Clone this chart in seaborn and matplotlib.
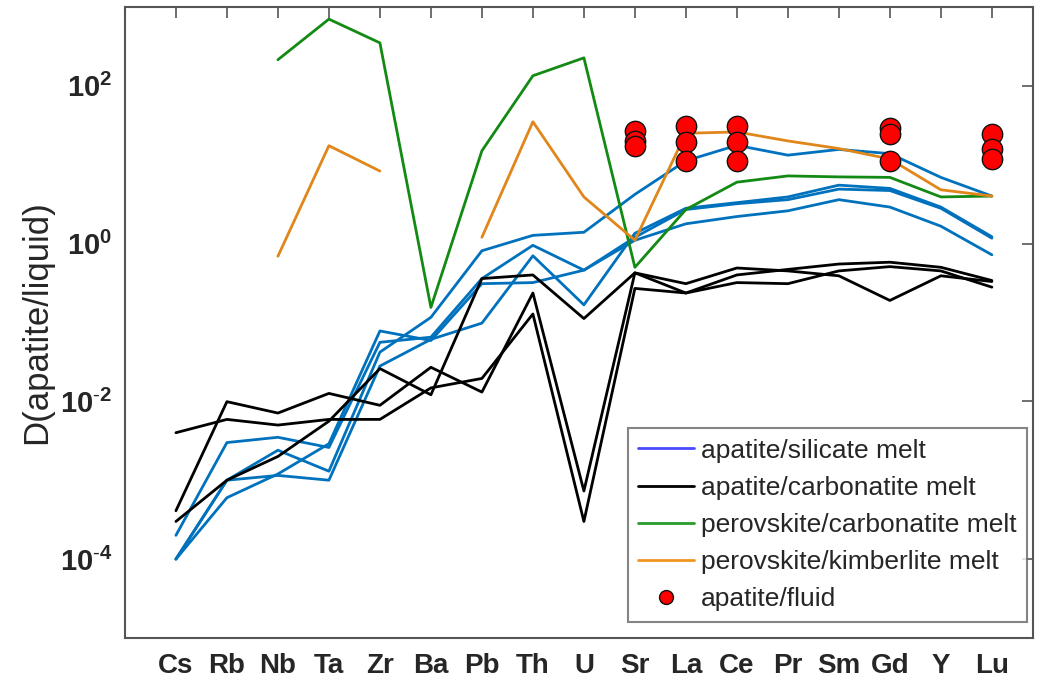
import numpy as np
import pandas as pd
import matplotlib
matplotlib.use("Agg")
import matplotlib.pyplot as plt
from matplotlib.lines import Line2D
import seaborn as sns

nan = np.nan

elements = ["Cs", "Rb", "Nb", "Ta", "Zr", "Ba", "Pb", "Th", "U",
            "Sr", "La", "Ce", "Pr", "Sm", "Gd", "Y", "Lu"]

# apatite / silicate melt partition coefficients (four experiments)
silicate_1 = [1e-4, 1.0e-3, 2.4e-3, 1.3e-3, 0.042, 0.116, 0.81, 1.27, 1.39,
              4.2, 11.2, 17.6, 13.2, 15.6, 13.8, 6.9, 4.0]
silicate_2 = [2e-4, 3.0e-3, 3.5e-3, 2.6e-3, 0.056, 0.065, 0.36, 0.95, 0.46,
              1.2, 2.7, 3.2, 3.6, 4.9, 4.7, 2.8, 1.17]
silicate_3 = [1e-4, 1.0e-3, 1.15e-3, 1.0e-3, 0.028, 0.061, 0.098, 0.70, 0.167,
              1.35, 2.8, 3.3, 3.9, 5.5, 5.0, 2.9, 1.22]
silicate_4 = [1e-4, 6e-4, 1.2e-3, 2.9e-3, 0.078, 0.059, 0.31, 0.32, 0.46,
              1.1, 1.78, 2.2, 2.6, 3.6, 2.9, 1.66, 0.72]

# apatite / carbonatite melt (three experiments)
carbonatite_1 = [3.0e-4, 1.0e-3, 2.0e-3, 5.6e-3, 0.026, 0.0121, 0.36, 0.40, 0.112,
                 0.425, 0.31, 0.49, 0.45, 0.39, 0.19, 0.39, 0.33]
carbonatite_2 = [4.1e-4, 9.9e-3, 7.1e-3, 0.0126, 8.9e-3, 0.027, 0.0131, 0.236, 7.3e-4,
                 0.425, 0.236, 0.40, 0.47, 0.55, 0.58, 0.50, 0.34]
carbonatite_3 = [4.0e-3, 5.9e-3, 5.0e-3, 5.9e-3, 5.9e-3, 0.0148, 0.0195, 0.128, 3.0e-4,
                 0.27, 0.236, 0.32, 0.31, 0.45, 0.51, 0.45, 0.28]

# perovskite partitioning
perovskite_carbonatite = [nan, nan, 214, 700, 350, 0.155, 15, 134, 226,
                          0.50, 2.7, 6.0, 7.2, 7.0, 6.9, 3.9, 4.0]
perovskite_kimberlite = [nan, nan, 0.69, 17.4, 8.3, nan, 1.2, 35, 3.9,
                         1.1, 25, 26, 20, 16, 11.8, 4.8, 4.0]

# apatite / fluid
fluid_elements = ["Sr", "Sr", "Sr", "La", "La", "La", "Ce", "Ce", "Ce",
                  "Gd", "Gd", "Gd", "Lu", "Lu", "Lu"]
fluid_values = [27, 20, 17, 31, 19.5, 11.2, 31, 19.5, 11.2,
                29, 24.5, 11.2, 24.6, 15.8, 11.8]

groups = {
    "apatite/silicate melt": [silicate_1, silicate_2, silicate_3, silicate_4],
    "apatite/carbonatite melt": [carbonatite_1, carbonatite_2, carbonatite_3],
    "perovskite/carbonatite melt": [perovskite_carbonatite],
    "perovskite/kimberlite melt": [perovskite_kimberlite],
}
colors = {
    "apatite/silicate melt": "#0072BD",
    "apatite/carbonatite melt": "#000000",
    "perovskite/carbonatite melt": "#138a13",
    "perovskite/kimberlite melt": "#E0861A",
}
legend_colors = {
    "apatite/silicate melt": "#4a4aff",
    "apatite/carbonatite melt": "#000000",
    "perovskite/carbonatite melt": "#2a9a2a",
    "perovskite/kimberlite melt": "#f0961e",
}

# long-form table; gaps (NaN) split a curve into separate units
rows = []
unit = 0
for group, curves in groups.items():
    for curve in curves:
        unit += 1
        seg = unit * 100
        for i, v in enumerate(curve):
            if np.isnan(v):
                seg += 1
                continue
            rows.append({"pos": i + 1, "D": v, "group": group, "unit": seg})
lines_df = pd.DataFrame(rows)

fluid_df = pd.DataFrame({
    "pos": [elements.index(e) + 1 for e in fluid_elements],
    "D": fluid_values,
})

sns.set_style("white")
plt.rcParams["font.family"] = ["Liberation Sans", "DejaVu Sans"]
plt.rcParams["mathtext.fontset"] = "custom"
plt.rcParams["mathtext.rm"] = "Liberation Sans"
plt.rcParams["mathtext.bf"] = "Liberation Sans:bold"

fig = plt.figure(figsize=(10.41, 6.90), dpi=100)
ax = fig.add_axes([0.120, 0.0754, 0.872, 0.9146])

sns.lineplot(data=lines_df, x="pos", y="D", hue="group", units="unit",
             estimator=None, palette=colors, hue_order=list(groups.keys()),
             linewidth=2.0, legend=False, ax=ax)
sns.scatterplot(data=fluid_df, x="pos", y="D", color="#ff0000",
                edgecolor="#111111", linewidth=1.0, s=215, zorder=5,
                legend=False, ax=ax)

ax.set_yscale("log")
ax.set_ylim(1e-5, 1e3)
ax.set_xlim(0, 17.8)

ax.set_xticks(range(1, len(elements) + 1))
ax.set_xticklabels(elements, fontsize=20, fontweight="bold")
yt = [1e-4, 1e-2, 1e0, 1e2]


def exp_label(v):
    e = int(np.log10(v))
    if e < 0:
        return r"$\mathbf{10^{\text{-}%d}}$" % (-e)
    return r"$\mathbf{10^{%d}}$" % e


ax.set_yticks(yt)
ax.set_yticklabels([exp_label(v) for v in yt], fontsize=21)
ax.yaxis.set_minor_locator(matplotlib.ticker.NullLocator())

ax.tick_params(axis="both", direction="in", top=True, right=True,
               length=8, width=1.2, color="#555555")
ax.tick_params(axis="x", pad=11)
ax.tick_params(axis="y", pad=9)
for s in ax.spines.values():
    s.set_color("#555555")
    s.set_linewidth(1.5)

ax.set_xlabel("")
ax.set_ylabel("D(apatite/liquid)", fontsize=25, labelpad=5)

handles = [Line2D([0], [0], color=legend_colors[g], lw=2.0) for g in groups]
handles.append(Line2D([0], [0], marker="o", linestyle="none",
                      markerfacecolor="#ff0000", markeredgecolor="#111111",
                      markersize=10))
labels = list(groups.keys()) + ["apatite/fluid"]
leg = ax.legend(handles, labels, loc="lower right",
                bbox_to_anchor=(0.9934, 0.0254), borderaxespad=0,
                fontsize=19, handlelength=2.1, handletextpad=0.25,
                labelspacing=0.5, borderpad=0.4, fancybox=False,
                frameon=True, edgecolor="#666666")
leg.get_frame().set_linewidth(1.5)

fig.savefig("out.png", dpi=100)
